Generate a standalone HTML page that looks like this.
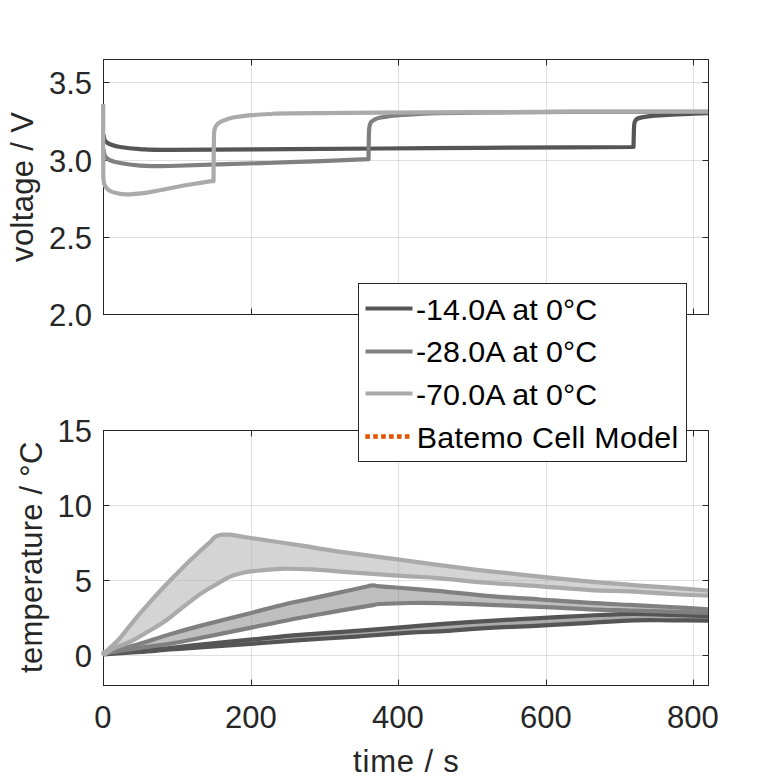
<!DOCTYPE html>
<html><head><meta charset="utf-8"><title>Voltage and temperature plot</title>
<style>
html,body{margin:0;padding:0;background:#fff;}
body{width:781px;height:781px;overflow:hidden;}
svg{display:block;}
text{font-family:"Liberation Sans", sans-serif;}
.ln{fill:none;stroke-width:4.2;stroke-linejoin:round;stroke-linecap:butt;}
.grid{stroke:#262626;stroke-opacity:0.14;stroke-width:1;fill:none;}
.ax{stroke:#262626;stroke-width:1;fill:none;}
.tl{font-size:31px;fill:#262626;}
.lg{font-size:30.4px;fill:#000;}
</style></head><body>
<svg width="781" height="781" viewBox="0 0 781 781">
<rect x="0" y="0" width="781" height="781" fill="#fff"/>
<defs>
<clipPath id="c1"><rect x="95" y="59.5" width="613.0" height="255.0"/></clipPath>
<clipPath id="c2"><rect x="95" y="430.5" width="613.0" height="255.0"/></clipPath>
</defs>

<g class="grid"><line x1="251.5" y1="59.5" x2="251.5" y2="314.5"/><line x1="398.5" y1="59.5" x2="398.5" y2="314.5"/><line x1="546.5" y1="59.5" x2="546.5" y2="314.5"/><line x1="693.5" y1="59.5" x2="693.5" y2="314.5"/><line x1="103.5" y1="82.5" x2="708.5" y2="82.5"/><line x1="103.5" y1="160.5" x2="708.5" y2="160.5"/><line x1="103.5" y1="237.5" x2="708.5" y2="237.5"/></g>
<g class="ax"><rect x="103.5" y="59.5" width="605.0" height="255.0"/><line x1="103.5" y1="314.5" x2="103.5" y2="308.5"/><line x1="103.5" y1="59.5" x2="103.5" y2="65.5"/><line x1="251.5" y1="314.5" x2="251.5" y2="308.5"/><line x1="251.5" y1="59.5" x2="251.5" y2="65.5"/><line x1="398.5" y1="314.5" x2="398.5" y2="308.5"/><line x1="398.5" y1="59.5" x2="398.5" y2="65.5"/><line x1="546.5" y1="314.5" x2="546.5" y2="308.5"/><line x1="546.5" y1="59.5" x2="546.5" y2="65.5"/><line x1="693.5" y1="314.5" x2="693.5" y2="308.5"/><line x1="693.5" y1="59.5" x2="693.5" y2="65.5"/><line x1="103.5" y1="82.5" x2="109.5" y2="82.5"/><line x1="708.5" y1="82.5" x2="702.5" y2="82.5"/><line x1="103.5" y1="160.5" x2="109.5" y2="160.5"/><line x1="708.5" y1="160.5" x2="702.5" y2="160.5"/><line x1="103.5" y1="237.5" x2="109.5" y2="237.5"/><line x1="708.5" y1="237.5" x2="702.5" y2="237.5"/><line x1="103.5" y1="314.5" x2="109.5" y2="314.5"/><line x1="708.5" y1="314.5" x2="702.5" y2="314.5"/></g>
<g clip-path="url(#c1)">
<path d="M103.50,134.50 C103.62,135.17 103.87,137.37 104.20,138.50 C104.53,139.63 104.53,140.33 105.50,141.30 C106.47,142.27 107.58,143.35 110.00,144.30 C112.42,145.25 115.00,146.20 120.00,147.00 C125.00,147.80 131.67,148.62 140.00,149.10 C148.33,149.58 145.00,149.90 170.00,149.90 C195.00,149.90 246.67,149.38 290.00,149.10 C333.33,148.82 383.33,148.50 430.00,148.20 C476.67,147.90 536.08,147.50 570.00,147.30 C603.92,147.10 622.92,147.05 633.50,147.00 L633.50,147.00 C633.55,145.00 633.70,138.50 633.80,135.00 C633.90,131.50 633.92,128.25 634.10,126.00 C634.28,123.75 634.42,122.68 634.90,121.50 C635.38,120.32 635.87,119.58 637.00,118.90 C638.13,118.22 639.53,117.85 641.70,117.40 C643.87,116.95 647.02,116.55 650.00,116.20 C652.98,115.85 652.93,115.70 659.60,115.30 C666.27,114.90 681.27,114.20 690.00,113.80 C698.73,113.40 708.33,113.05 712.00,112.90" class="ln" stroke="#555555"/>
<path d="M103.50,149.50 C103.62,150.17 103.87,152.30 104.20,153.50 C104.53,154.70 104.53,155.57 105.50,156.70 C106.47,157.83 107.58,159.25 110.00,160.30 C112.42,161.35 115.00,162.12 120.00,163.00 C125.00,163.88 134.17,165.08 140.00,165.60 C145.83,166.12 150.00,166.03 155.00,166.10 C160.00,166.17 159.50,166.28 170.00,166.00 C180.50,165.72 198.00,165.03 218.00,164.40 C238.00,163.77 264.92,163.07 290.00,162.20 C315.08,161.33 355.42,159.70 368.50,159.20 L368.50,159.20 C368.55,156.00 368.70,144.87 368.80,140.00 C368.90,135.13 368.93,132.50 369.10,130.00 C369.27,127.50 369.40,126.40 369.80,125.00 C370.20,123.60 370.63,122.55 371.50,121.60 C372.37,120.65 373.65,119.95 375.00,119.30 C376.35,118.65 377.43,118.20 379.60,117.70 C381.77,117.20 384.93,116.70 388.00,116.30 C391.07,115.90 391.00,115.77 398.00,115.30 C405.00,114.83 418.00,113.95 430.00,113.50 C442.00,113.05 446.67,112.87 470.00,112.60 C493.33,112.33 529.67,112.03 570.00,111.90 C610.33,111.77 688.33,111.82 712.00,111.80" class="ln" stroke="#808080"/>
<path d="M103.20,104.00 C103.20,111.67 103.18,138.17 103.20,150.00 C103.22,161.83 103.20,169.75 103.30,175.00 C103.40,180.25 103.55,179.75 103.80,181.50 C104.05,183.25 104.15,184.20 104.80,185.50 C105.45,186.80 106.67,188.33 107.70,189.30 C108.73,190.27 109.72,190.72 111.00,191.30 C112.28,191.88 113.90,192.38 115.40,192.80 C116.90,193.22 118.35,193.55 120.00,193.80 C121.65,194.05 123.47,194.22 125.30,194.30 C127.13,194.38 128.82,194.40 131.00,194.30 C133.18,194.20 135.25,194.07 138.40,193.70 C141.55,193.33 146.30,192.67 149.90,192.10 C153.50,191.53 155.82,191.10 160.00,190.30 C164.18,189.50 169.97,188.27 175.00,187.30 C180.03,186.33 183.87,185.57 190.20,184.50 C196.53,183.43 209.20,181.50 213.00,180.90 L213.50,181.00 C213.53,177.50 213.62,167.50 213.70,160.00 C213.78,152.50 213.85,141.08 214.00,136.00 C214.15,130.92 214.18,131.30 214.60,129.50 C215.02,127.70 215.48,126.48 216.50,125.20 C217.52,123.92 218.95,122.80 220.70,121.80 C222.45,120.80 224.70,119.95 227.00,119.20 C229.30,118.45 230.50,117.97 234.50,117.30 C238.50,116.63 245.08,115.75 251.00,115.20 C256.92,114.65 263.50,114.32 270.00,114.00 C276.50,113.68 263.33,113.57 290.00,113.30 C316.67,113.03 383.33,112.67 430.00,112.40 C476.67,112.13 523.00,111.85 570.00,111.70 C617.00,111.55 688.33,111.53 712.00,111.50" class="ln" stroke="#aaaaaa"/>
</g>

<g class="grid"><line x1="251.5" y1="430.5" x2="251.5" y2="685.5"/><line x1="398.5" y1="430.5" x2="398.5" y2="685.5"/><line x1="546.5" y1="430.5" x2="546.5" y2="685.5"/><line x1="693.5" y1="430.5" x2="693.5" y2="685.5"/><line x1="103.5" y1="505.5" x2="708.5" y2="505.5"/><line x1="103.5" y1="580.5" x2="708.5" y2="580.5"/><line x1="103.5" y1="655.5" x2="708.5" y2="655.5"/></g>
<g class="ax"><rect x="103.5" y="430.5" width="605.0" height="255.0"/><line x1="103.5" y1="685.5" x2="103.5" y2="679.5"/><line x1="103.5" y1="430.5" x2="103.5" y2="436.5"/><line x1="251.5" y1="685.5" x2="251.5" y2="679.5"/><line x1="251.5" y1="430.5" x2="251.5" y2="436.5"/><line x1="398.5" y1="685.5" x2="398.5" y2="679.5"/><line x1="398.5" y1="430.5" x2="398.5" y2="436.5"/><line x1="546.5" y1="685.5" x2="546.5" y2="679.5"/><line x1="546.5" y1="430.5" x2="546.5" y2="436.5"/><line x1="693.5" y1="685.5" x2="693.5" y2="679.5"/><line x1="693.5" y1="430.5" x2="693.5" y2="436.5"/><line x1="103.5" y1="430.5" x2="109.5" y2="430.5"/><line x1="708.5" y1="430.5" x2="702.5" y2="430.5"/><line x1="103.5" y1="505.5" x2="109.5" y2="505.5"/><line x1="708.5" y1="505.5" x2="702.5" y2="505.5"/><line x1="103.5" y1="580.5" x2="109.5" y2="580.5"/><line x1="708.5" y1="580.5" x2="702.5" y2="580.5"/><line x1="103.5" y1="655.5" x2="109.5" y2="655.5"/><line x1="708.5" y1="655.5" x2="702.5" y2="655.5"/></g>
<g clip-path="url(#c2)">
<path d="M103.60,654.00 C109.67,653.42 128.93,651.50 140.00,650.50 C151.07,649.50 160.00,648.97 170.00,648.00 C180.00,647.03 186.67,646.08 200.00,644.70 C213.33,643.32 233.33,641.35 250.00,639.70 C266.67,638.05 281.67,636.32 300.00,634.80 C318.33,633.28 341.67,631.97 360.00,630.60 C378.33,629.23 396.67,627.67 410.00,626.60 C423.33,625.53 426.67,625.17 440.00,624.20 C453.33,623.23 473.33,621.82 490.00,620.80 C506.67,619.78 523.33,618.98 540.00,618.10 C556.67,617.22 574.33,616.22 590.00,615.50 C605.67,614.78 620.67,613.88 634.00,613.80 C647.33,613.72 657.00,614.60 670.00,615.00 C683.00,615.40 705.00,616.00 712.00,616.20 L712.00,620.60 C705.00,620.55 683.00,620.33 670.00,620.30 C657.00,620.27 647.33,619.98 634.00,620.40 C620.67,620.82 605.67,621.93 590.00,622.80 C574.33,623.67 556.67,624.75 540.00,625.60 C523.33,626.45 506.67,626.95 490.00,627.90 C473.33,628.85 453.33,630.50 440.00,631.30 C426.67,632.10 423.33,631.87 410.00,632.70 C396.67,633.53 378.33,635.05 360.00,636.30 C341.67,637.55 318.33,638.92 300.00,640.20 C281.67,641.48 266.67,642.80 250.00,644.00 C233.33,645.20 213.33,646.48 200.00,647.40 C186.67,648.32 180.00,648.73 170.00,649.50 C160.00,650.27 151.07,651.20 140.00,652.00 C128.93,652.80 109.67,653.92 103.60,654.30 Z" fill="#555555" fill-opacity="0.5" stroke="none"/>
<path d="M103.60,654.00 C109.67,653.42 128.93,651.50 140.00,650.50 C151.07,649.50 160.00,648.97 170.00,648.00 C180.00,647.03 186.67,646.08 200.00,644.70 C213.33,643.32 233.33,641.35 250.00,639.70 C266.67,638.05 281.67,636.32 300.00,634.80 C318.33,633.28 341.67,631.97 360.00,630.60 C378.33,629.23 396.67,627.67 410.00,626.60 C423.33,625.53 426.67,625.17 440.00,624.20 C453.33,623.23 473.33,621.82 490.00,620.80 C506.67,619.78 523.33,618.98 540.00,618.10 C556.67,617.22 574.33,616.22 590.00,615.50 C605.67,614.78 620.67,613.88 634.00,613.80 C647.33,613.72 657.00,614.60 670.00,615.00 C683.00,615.40 705.00,616.00 712.00,616.20" class="ln" stroke="#555555"/>
<path d="M103.60,654.30 C109.67,653.92 128.93,652.80 140.00,652.00 C151.07,651.20 160.00,650.27 170.00,649.50 C180.00,648.73 186.67,648.32 200.00,647.40 C213.33,646.48 233.33,645.20 250.00,644.00 C266.67,642.80 281.67,641.48 300.00,640.20 C318.33,638.92 341.67,637.55 360.00,636.30 C378.33,635.05 396.67,633.53 410.00,632.70 C423.33,631.87 426.67,632.10 440.00,631.30 C453.33,630.50 473.33,628.85 490.00,627.90 C506.67,626.95 523.33,626.45 540.00,625.60 C556.67,624.75 574.33,623.67 590.00,622.80 C605.67,621.93 620.67,620.82 634.00,620.40 C647.33,619.98 657.00,620.27 670.00,620.30 C683.00,620.33 705.00,620.55 712.00,620.60" class="ln" stroke="#555555"/>
<path d="M103.60,653.50 C106.33,652.75 113.93,650.62 120.00,649.00 C126.07,647.38 131.67,646.25 140.00,643.80 C148.33,641.35 160.00,637.28 170.00,634.30 C180.00,631.32 186.67,629.42 200.00,625.90 C213.33,622.38 235.83,616.82 250.00,613.20 C264.17,609.58 274.00,606.80 285.00,604.20 C296.00,601.60 305.17,599.93 316.00,597.60 C326.83,595.27 341.33,592.08 350.00,590.20 C358.67,588.32 364.17,587.12 368.00,586.30 C371.83,585.48 371.00,585.30 373.00,585.30 C375.00,585.30 373.83,585.75 380.00,586.30 C386.17,586.85 400.00,587.78 410.00,588.60 C420.00,589.42 426.67,589.95 440.00,591.20 C453.33,592.45 473.33,594.72 490.00,596.10 C506.67,597.48 523.33,598.37 540.00,599.50 C556.67,600.63 575.00,602.00 590.00,602.90 C605.00,603.80 616.67,604.22 630.00,604.90 C643.33,605.58 656.33,606.23 670.00,607.00 C683.67,607.77 705.00,609.08 712.00,609.50 L712.00,613.00 C705.00,612.77 683.67,612.02 670.00,611.60 C656.33,611.18 643.33,610.88 630.00,610.50 C616.67,610.12 605.00,609.92 590.00,609.30 C575.00,608.68 556.67,607.55 540.00,606.80 C523.33,606.05 506.67,605.42 490.00,604.80 C473.33,604.18 453.33,603.40 440.00,603.10 C426.67,602.80 420.00,602.85 410.00,603.00 C400.00,603.15 386.17,603.65 380.00,604.00 C373.83,604.35 378.00,604.28 373.00,605.10 C368.00,605.92 358.83,607.38 350.00,608.90 C341.17,610.42 330.00,612.40 320.00,614.20 C310.00,616.00 300.00,617.77 290.00,619.70 C280.00,621.63 266.67,624.43 260.00,625.80 C253.33,627.17 260.00,625.87 250.00,627.90 C240.00,629.93 213.33,635.35 200.00,638.00 C186.67,640.65 180.00,642.17 170.00,643.80 C160.00,645.43 148.33,646.60 140.00,647.80 C131.67,649.00 126.07,650.00 120.00,651.00 C113.93,652.00 106.33,653.33 103.60,653.80 Z" fill="#808080" fill-opacity="0.5" stroke="none"/>
<path d="M103.60,653.50 C106.33,652.75 113.93,650.62 120.00,649.00 C126.07,647.38 131.67,646.25 140.00,643.80 C148.33,641.35 160.00,637.28 170.00,634.30 C180.00,631.32 186.67,629.42 200.00,625.90 C213.33,622.38 235.83,616.82 250.00,613.20 C264.17,609.58 274.00,606.80 285.00,604.20 C296.00,601.60 305.17,599.93 316.00,597.60 C326.83,595.27 341.33,592.08 350.00,590.20 C358.67,588.32 364.17,587.12 368.00,586.30 C371.83,585.48 371.00,585.30 373.00,585.30 C375.00,585.30 373.83,585.75 380.00,586.30 C386.17,586.85 400.00,587.78 410.00,588.60 C420.00,589.42 426.67,589.95 440.00,591.20 C453.33,592.45 473.33,594.72 490.00,596.10 C506.67,597.48 523.33,598.37 540.00,599.50 C556.67,600.63 575.00,602.00 590.00,602.90 C605.00,603.80 616.67,604.22 630.00,604.90 C643.33,605.58 656.33,606.23 670.00,607.00 C683.67,607.77 705.00,609.08 712.00,609.50" class="ln" stroke="#808080"/>
<path d="M103.60,653.80 C106.33,653.33 113.93,652.00 120.00,651.00 C126.07,650.00 131.67,649.00 140.00,647.80 C148.33,646.60 160.00,645.43 170.00,643.80 C180.00,642.17 186.67,640.65 200.00,638.00 C213.33,635.35 240.00,629.93 250.00,627.90 C260.00,625.87 253.33,627.17 260.00,625.80 C266.67,624.43 280.00,621.63 290.00,619.70 C300.00,617.77 310.00,616.00 320.00,614.20 C330.00,612.40 341.17,610.42 350.00,608.90 C358.83,607.38 368.00,605.92 373.00,605.10 C378.00,604.28 373.83,604.35 380.00,604.00 C386.17,603.65 400.00,603.15 410.00,603.00 C420.00,602.85 426.67,602.80 440.00,603.10 C453.33,603.40 473.33,604.18 490.00,604.80 C506.67,605.42 523.33,606.05 540.00,606.80 C556.67,607.55 575.00,608.68 590.00,609.30 C605.00,609.92 616.67,610.12 630.00,610.50 C643.33,610.88 656.33,611.18 670.00,611.60 C683.67,612.02 705.00,612.77 712.00,613.00" class="ln" stroke="#808080"/>
<path d="M103.60,653.50 C104.17,653.05 105.90,651.78 107.00,650.80 C108.10,649.82 108.37,649.37 110.20,647.60 C112.03,645.83 115.37,643.03 118.00,640.20 C120.63,637.37 123.33,633.85 126.00,630.60 C128.67,627.35 131.33,623.93 134.00,620.70 C136.67,617.47 139.33,614.30 142.00,611.20 C144.67,608.10 147.33,605.08 150.00,602.10 C152.67,599.12 155.33,596.18 158.00,593.30 C160.67,590.42 163.33,587.60 166.00,584.80 C168.67,582.00 171.33,579.23 174.00,576.50 C176.67,573.77 179.33,571.05 182.00,568.40 C184.67,565.75 187.33,563.17 190.00,560.60 C192.67,558.03 195.50,555.33 198.00,553.00 C200.50,550.67 203.00,548.40 205.00,546.60 C207.00,544.80 208.33,543.80 210.00,542.20 C211.67,540.60 213.17,538.23 215.00,537.00 C216.83,535.77 218.83,535.18 221.00,534.80 C223.17,534.42 225.67,534.60 228.00,534.70 C230.33,534.80 231.22,534.85 235.00,535.40 C238.78,535.95 240.10,536.37 250.70,538.00 C261.30,539.63 283.58,542.90 298.60,545.20 C313.62,547.50 324.37,549.45 340.80,551.80 C357.23,554.15 380.67,557.07 397.20,559.30 C413.73,561.53 424.53,563.20 440.00,565.20 C455.47,567.20 473.33,569.40 490.00,571.30 C506.67,573.20 523.33,574.88 540.00,576.60 C556.67,578.32 575.00,580.23 590.00,581.60 C605.00,582.97 616.67,583.78 630.00,584.80 C643.33,585.82 656.33,586.70 670.00,587.70 C683.67,588.70 705.00,590.28 712.00,590.80 L712.00,595.80 C705.00,595.50 683.67,594.75 670.00,594.00 C656.33,593.25 643.33,591.95 630.00,591.30 C616.67,590.65 605.00,590.93 590.00,590.10 C575.00,589.27 556.67,587.48 540.00,586.30 C523.33,585.12 506.67,584.33 490.00,583.00 C473.33,581.67 453.33,579.40 440.00,578.30 C426.67,577.20 421.18,577.13 410.00,576.40 C398.82,575.67 384.57,574.70 372.90,573.90 C361.23,573.10 350.23,572.35 340.00,571.60 C329.77,570.85 321.38,569.87 311.50,569.40 C301.62,568.93 289.35,568.62 280.70,568.80 C272.05,568.98 265.25,569.97 259.60,570.50 C253.95,571.03 251.07,571.22 246.80,572.00 C242.53,572.78 237.20,574.23 234.00,575.20 C230.80,576.17 229.93,576.62 227.60,577.80 C225.27,578.98 222.93,580.60 220.00,582.30 C217.07,584.00 213.33,586.00 210.00,588.00 C206.67,590.00 203.33,592.02 200.00,594.30 C196.67,596.58 193.33,599.17 190.00,601.70 C186.67,604.23 183.33,606.87 180.00,609.50 C176.67,612.13 173.33,614.98 170.00,617.50 C166.67,620.02 163.33,622.43 160.00,624.60 C156.67,626.77 153.33,628.55 150.00,630.50 C146.67,632.45 143.22,634.47 140.00,636.30 C136.78,638.13 134.80,639.62 130.70,641.50 C126.60,643.38 119.18,645.88 115.40,647.60 C111.62,649.32 109.97,650.82 108.00,651.80 C106.03,652.78 104.33,653.22 103.60,653.50 Z" fill="#aaaaaa" fill-opacity="0.5" stroke="none"/>
<path d="M103.60,653.50 C104.17,653.05 105.90,651.78 107.00,650.80 C108.10,649.82 108.37,649.37 110.20,647.60 C112.03,645.83 115.37,643.03 118.00,640.20 C120.63,637.37 123.33,633.85 126.00,630.60 C128.67,627.35 131.33,623.93 134.00,620.70 C136.67,617.47 139.33,614.30 142.00,611.20 C144.67,608.10 147.33,605.08 150.00,602.10 C152.67,599.12 155.33,596.18 158.00,593.30 C160.67,590.42 163.33,587.60 166.00,584.80 C168.67,582.00 171.33,579.23 174.00,576.50 C176.67,573.77 179.33,571.05 182.00,568.40 C184.67,565.75 187.33,563.17 190.00,560.60 C192.67,558.03 195.50,555.33 198.00,553.00 C200.50,550.67 203.00,548.40 205.00,546.60 C207.00,544.80 208.33,543.80 210.00,542.20 C211.67,540.60 213.17,538.23 215.00,537.00 C216.83,535.77 218.83,535.18 221.00,534.80 C223.17,534.42 225.67,534.60 228.00,534.70 C230.33,534.80 231.22,534.85 235.00,535.40 C238.78,535.95 240.10,536.37 250.70,538.00 C261.30,539.63 283.58,542.90 298.60,545.20 C313.62,547.50 324.37,549.45 340.80,551.80 C357.23,554.15 380.67,557.07 397.20,559.30 C413.73,561.53 424.53,563.20 440.00,565.20 C455.47,567.20 473.33,569.40 490.00,571.30 C506.67,573.20 523.33,574.88 540.00,576.60 C556.67,578.32 575.00,580.23 590.00,581.60 C605.00,582.97 616.67,583.78 630.00,584.80 C643.33,585.82 656.33,586.70 670.00,587.70 C683.67,588.70 705.00,590.28 712.00,590.80" class="ln" stroke="#aaaaaa"/>
<path d="M103.60,653.50 C104.33,653.22 106.03,652.78 108.00,651.80 C109.97,650.82 111.62,649.32 115.40,647.60 C119.18,645.88 126.60,643.38 130.70,641.50 C134.80,639.62 136.78,638.13 140.00,636.30 C143.22,634.47 146.67,632.45 150.00,630.50 C153.33,628.55 156.67,626.77 160.00,624.60 C163.33,622.43 166.67,620.02 170.00,617.50 C173.33,614.98 176.67,612.13 180.00,609.50 C183.33,606.87 186.67,604.23 190.00,601.70 C193.33,599.17 196.67,596.58 200.00,594.30 C203.33,592.02 206.67,590.00 210.00,588.00 C213.33,586.00 217.07,584.00 220.00,582.30 C222.93,580.60 225.27,578.98 227.60,577.80 C229.93,576.62 230.80,576.17 234.00,575.20 C237.20,574.23 242.53,572.78 246.80,572.00 C251.07,571.22 253.95,571.03 259.60,570.50 C265.25,569.97 272.05,568.98 280.70,568.80 C289.35,568.62 301.62,568.93 311.50,569.40 C321.38,569.87 329.77,570.85 340.00,571.60 C350.23,572.35 361.23,573.10 372.90,573.90 C384.57,574.70 398.82,575.67 410.00,576.40 C421.18,577.13 426.67,577.20 440.00,578.30 C453.33,579.40 473.33,581.67 490.00,583.00 C506.67,584.33 523.33,585.12 540.00,586.30 C556.67,587.48 575.00,589.27 590.00,590.10 C605.00,590.93 616.67,590.65 630.00,591.30 C643.33,591.95 656.33,593.25 670.00,594.00 C683.67,594.75 705.00,595.50 712.00,595.80" class="ln" stroke="#aaaaaa"/>
<circle cx="104.4" cy="653.3" r="3.2" fill="#aaaaaa"/>
</g>

<text class="tl" x="92" y="93.5" text-anchor="end">3.5</text>
<text class="tl" x="92" y="171.5" text-anchor="end">3.0</text>
<text class="tl" x="92" y="248.5" text-anchor="end">2.5</text>
<text class="tl" x="92" y="325.5" text-anchor="end">2.0</text>
<text class="tl" x="92" y="441.5" text-anchor="end">15</text>
<text class="tl" x="92" y="516.5" text-anchor="end">10</text>
<text class="tl" x="92" y="591.5" text-anchor="end">5</text>
<text class="tl" x="92" y="666.5" text-anchor="end">0</text>
<text class="tl" x="102.8" y="727.6" text-anchor="middle">0</text>
<text class="tl" x="250.8" y="727.6" text-anchor="middle">200</text>
<text class="tl" x="397.8" y="727.6" text-anchor="middle">400</text>
<text class="tl" x="545.8" y="727.6" text-anchor="middle">600</text>
<text class="tl" x="692.8" y="727.6" text-anchor="middle">800</text>
<text class="tl" x="0" y="0" text-anchor="middle" textLength="149.9" transform="translate(33,187) rotate(-90)">voltage / V</text>
<text class="tl" x="0" y="0" text-anchor="middle" textLength="231.3" transform="translate(41.7,557.3) rotate(-90)">temperature / °C</text>
<text class="tl" x="405.9" y="771.5" text-anchor="middle" textLength="105.9">time / s</text>
<rect x="358.5" y="283.5" width="328.0" height="178.0" fill="#fff" stroke="#262626" stroke-width="1"/>
<line x1="365.5" y1="308.5" x2="412.5" y2="308.5" stroke="#555555" stroke-width="4"/>
<text class="lg" x="416" y="319.6">-14.0A at 0°C</text>
<line x1="365.5" y1="351.5" x2="412.5" y2="351.5" stroke="#808080" stroke-width="4"/>
<text class="lg" x="416" y="362.4">-28.0A at 0°C</text>
<line x1="365.5" y1="393.5" x2="412.5" y2="393.5" stroke="#aaaaaa" stroke-width="4"/>
<text class="lg" x="416" y="405.0">-70.0A at 0°C</text>
<rect x="365.30" y="434.2" width="4.6" height="4.6" fill="#e65300"/><rect x="373.22" y="434.2" width="4.6" height="4.6" fill="#e65300"/><rect x="381.14" y="434.2" width="4.6" height="4.6" fill="#e65300"/><rect x="389.06" y="434.2" width="4.6" height="4.6" fill="#e65300"/><rect x="396.98" y="434.2" width="4.6" height="4.6" fill="#e65300"/><rect x="404.90" y="434.2" width="4.6" height="4.6" fill="#e65300"/>
<text class="lg" x="416.8" y="447.9" textLength="261.5">Batemo Cell Model</text>

</svg>
</body></html>
